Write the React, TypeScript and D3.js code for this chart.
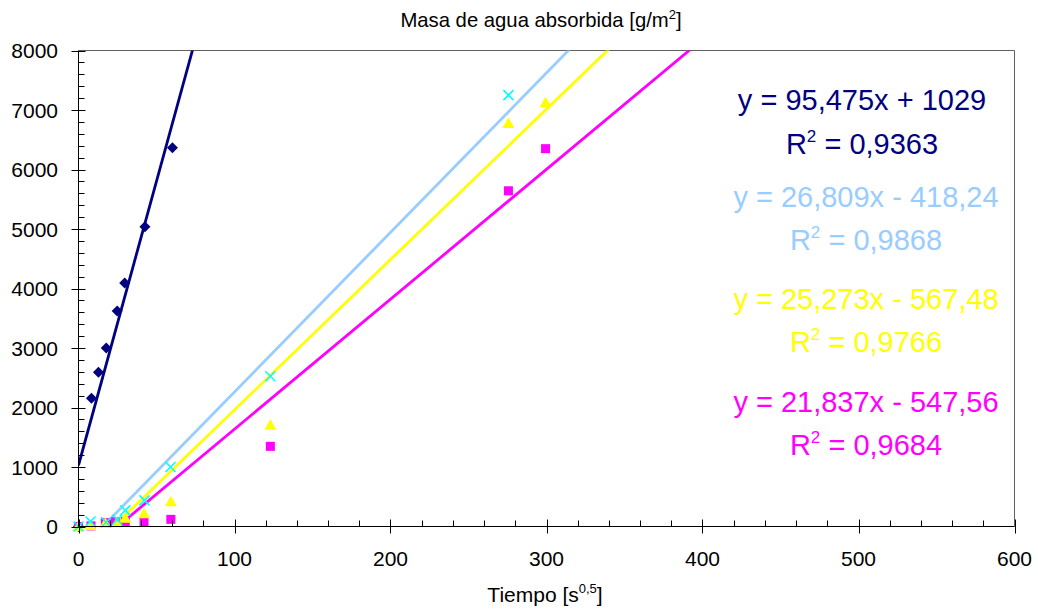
import React from 'react';
import * as d3 from 'd3';

// Series data (x = Tiempo [s^0.5], y = masa [g/m2])
const navyX = [0, 8.3, 12.8, 17.8, 24.8, 29.6, 42.6, 60.2];
const navyY = [0, 2156, 2594, 2998, 3621, 4093, 5036, 6366];

const cyanX = [0, 7.7, 17.7, 24.8, 30, 42.3, 59, 123, 275.6];
const cyanY = [0, 85, 72, 113, 270, 438, 1000, 2526, 7250];

const yellowX = [0, 7.7, 17.2, 24.6, 30, 42, 59.2, 123, 275.6, 299.4];
const yellowY = [0, 15, 55, 65, 140, 215, 415, 1700, 6775, 7120];

const magentaX = [0, 8, 17.2, 23.5, 30, 42, 59.2, 123, 275.6, 299.4];
const magentaY = [0, 10, 65, 80, 85, 80, 120, 1347, 5642, 6350];

const trendNames = ['navy', 'lightblue', 'yellow', 'magenta'];
const trendSlopes = [95.475, 26.809, 25.273, 21.837];
const trendIntercepts = [1029, -418.24, -567.48, -547.56];
const trendEquations = ['y = 95,475x + 1029', 'y = 26,809x - 418,24', 'y = 25,273x - 567,48', 'y = 21,837x - 547,56'];
const trendR2 = ['0,9363', '0,9868', '0,9766', '0,9684'];
const trendColors = ['#000080', '#99CCFF', '#FFFF00', '#FF00FF'];

const xTicks = [0, 100, 200, 300, 400, 500, 600];
const yTicks = [0, 1000, 2000, 3000, 4000, 5000, 6000, 7000, 8000];

const W = 1038;
const H = 611;
const L = 78.5;
const R = 1014.5;
const T = 50.5;
const B = 526.5;
const FONT = '"Liberation Sans", Arial, Helvetica, sans-serif';

export default function App() {
  const x = d3.scaleLinear().domain([0, 600]).range([L, R]);
  const y = d3.scaleLinear().domain([0, 8000]).range([B, T]);
  const xMinor = d3.range(0, 601, 20);
  const yMinor = d3.range(0, 8001, 200);

  const line = d3.line<[number, number]>().x(d => x(d[0])).y(d => y(d[1]));

  const toPts = (xs: number[], ys: number[]) => xs.map((v, i) => [v, ys[i]] as [number, number]);

  const diamond = (cx: number, cy: number) => `M${cx},${cy - 5.5}L${cx + 5.5},${cy}L${cx},${cy + 5.5}L${cx - 5.5},${cy}Z`;
  const triangle = (cx: number, cy: number) => `M${cx},${cy - 6}L${cx + 6},${cy + 4.5}L${cx - 6},${cy + 4.5}Z`;

  const eqCenter = [862, 866, 866, 866];
  const eqBase = [110, 207, 308.5, 412];
  const r2Base = [154, 249.5, 352, 455];

  return (
    <svg width={W} height={H} style={{ position: 'absolute', left: 0, top: 0, background: '#fff' }} fontFamily={FONT}>
      <defs>
        <clipPath id="plot">
          <rect x={L} y={T} width={R - L} height={B - T} />
        </clipPath>
      </defs>
      <rect x={0} y={0} width={W} height={H} fill="#fff" />

      {/* frame */}
      <line x1={L} x2={R} y1={T} y2={T} stroke="#606060" strokeWidth={1} />
      <line x1={R} x2={R} y1={T} y2={B} stroke="#606060" strokeWidth={1} />

      {/* trend lines */}
      <g clipPath="url(#plot)">
        {trendSlopes.map((m, i) => (
          <path
            key={trendNames[i]}
            d={line([[0, trendIntercepts[i]], [600, m * 600 + trendIntercepts[i]]]) || ''}
            stroke={trendColors[i]}
            strokeWidth={2.8}
            fill="none"
          />
        ))}
      </g>

      {/* markers */}
      <g>
        {toPts(navyX, navyY).map((p, i) => (
          <path key={'n' + i} d={diamond(x(p[0]), y(p[1]))} fill="#000080" />
        ))}
        {toPts(magentaX, magentaY).map((p, i) => (
          <rect key={'m' + i} x={x(p[0]) - 4.5} y={y(p[1]) - 4.5} width={9} height={9} fill="#FF00FF" />
        ))}
        {toPts(yellowX, yellowY).map((p, i) => (
          <path key={'y' + i} d={triangle(x(p[0]), y(p[1]))} fill="#FFFF00" />
        ))}
        {toPts(cyanX, cyanY).map((p, i) => {
          const cx = x(p[0]);
          const cy = y(p[1]);
          return (
            <g key={'c' + i} stroke="#00FFFF" strokeWidth={1.6}>
              <line x1={cx - 5} y1={cy - 5} x2={cx + 5} y2={cy + 5} />
              <line x1={cx - 5} y1={cy + 5} x2={cx + 5} y2={cy - 5} />
            </g>
          );
        })}
      </g>

      {/* axes */}
      <line x1={L} x2={L} y1={T} y2={B} stroke="#000" strokeWidth={1} />
      <line x1={L} x2={R} y1={B} y2={B} stroke="#000" strokeWidth={1} />
      {yMinor.filter(v => v % 1000 !== 0).map(v => (
        <line key={'ym' + v} x1={L} x2={L + 6} y1={Math.round(y(v)) + 0.5} y2={Math.round(y(v)) + 0.5} stroke="#000" />
      ))}
      {yTicks.map(v => (
        <line key={'yM' + v} x1={L - 7} x2={L + 7} y1={Math.round(y(v)) + 0.5} y2={Math.round(y(v)) + 0.5} stroke="#000" />
      ))}
      {xMinor.filter(v => v % 100 !== 0).map(v => (
        <line key={'xm' + v} x1={Math.round(x(v)) + 0.5} x2={Math.round(x(v)) + 0.5} y1={B - 6} y2={B} stroke="#000" />
      ))}
      {xTicks.map(v => (
        <line key={'xM' + v} x1={Math.round(x(v)) + 0.5} x2={Math.round(x(v)) + 0.5} y1={B - 7} y2={B + 7} stroke="#000" />
      ))}

      {/* tick labels */}
      {yTicks.map(v => (
        <text key={'yl' + v} x={58} y={y(v) + 7.5} textAnchor="end" fontSize={21} fill="#000">
          {v}
        </text>
      ))}
      {xTicks.map(v => (
        <text key={'xl' + v} x={x(v)} y={566} textAnchor="middle" fontSize={21} fill="#000">
          {v}
        </text>
      ))}

      {/* titles */}
      <text x={541} y={27} textAnchor="middle" fontSize={20.3} fill="#000">
        Masa de agua absorbida [g/m<tspan fontSize={13} dy={-8}>2</tspan>
        <tspan dy={8}>]</tspan>
      </text>
      <text x={545} y={601.5} textAnchor="middle" fontSize={21} fill="#000">
        Tiempo [s<tspan fontSize={13} dy={-8.5}>0,5</tspan>
        <tspan dy={8.5}>]</tspan>
      </text>

      {/* equations */}
      {trendEquations.map((eq, i) => (
        <g key={'eq' + i} fill={trendColors[i]} fontSize={29}>
          <text x={eqCenter[i]} y={eqBase[i]} textAnchor="middle">
            {eq}
          </text>
          <text x={eqCenter[i]} y={r2Base[i]} textAnchor="middle">
            R<tspan fontSize={17} dy={-12}>2</tspan>
            <tspan dy={12}> = {trendR2[i]}</tspan>
          </text>
        </g>
      ))}
    </svg>
  );
}
